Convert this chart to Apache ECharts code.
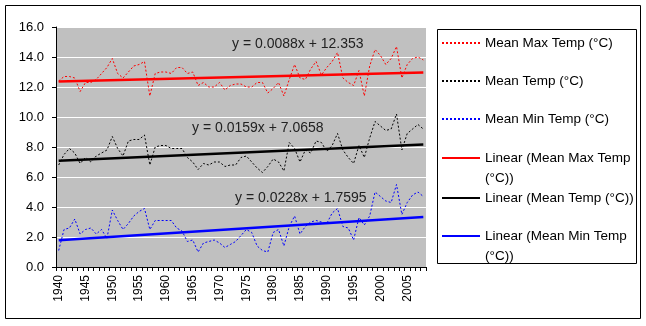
<!DOCTYPE html>
<html>
<head>
<meta charset="utf-8">
<script src="https://cdn.jsdelivr.net/npm/echarts@6/dist/echarts.min.js"></script>
<style>
  html, body { margin: 0; padding: 0; background: #fff; }
  #chart { width: 646px; height: 326px; }
</style>
</head>
<body>
<div id="chart"></div>
<script>
// Years 1940-2008
const years = [];
for (let y = 1940; y <= 2008; y++) years.push(String(y));

// Annual means (°C)
const meanMax = [12.4, 12.7, 12.7, 12.6, 11.7, 12.3, 12.3, 12.5, 12.9, 13.3,
                 13.9, 12.9, 12.6, 13.0, 13.4, 13.5, 13.7, 11.4, 12.9, 13.0,
                 13.0, 12.9, 13.3, 13.3, 12.9, 13.0, 12.1, 12.3, 12.0, 12.0,
                 12.3, 11.8, 12.1, 12.2, 12.2, 12.0, 12.0, 12.3, 12.3, 11.6,
                 11.9, 12.3, 11.4, 12.5, 13.5, 12.6, 12.5, 13.2, 13.7, 12.8,
                 13.3, 13.7, 14.3, 12.6, 12.3, 12.1, 13.1, 11.4, 13.4, 14.5,
                 14.1, 13.5, 13.9, 14.7, 12.6, 13.5, 13.9, 14.0, 13.8];
const meanTemp = [6.8, 7.5, 7.9, 7.6, 6.9, 7.3, 7.0, 7.4, 7.6, 7.8,
                  8.7, 7.9, 7.4, 8.4, 8.5, 8.5, 8.8, 6.8, 8.0, 8.1,
                  8.1, 7.9, 7.9, 7.9, 7.3, 7.0, 6.5, 6.9, 6.8, 7.0,
                  7.0, 6.7, 6.8, 6.8, 7.3, 7.4, 7.0, 6.6, 6.3, 6.7,
                  7.2, 7.0, 6.4, 8.3, 7.9, 7.0, 7.8, 7.6, 8.4, 8.3,
                  7.7, 8.1, 8.9, 7.8, 7.3, 6.9, 8.1, 7.3, 8.6, 9.7,
                  9.4, 9.1, 9.2, 10.2, 7.8, 8.9, 9.2, 9.5, 9.2];
const meanMin = [1.1, 2.5, 2.6, 3.2, 2.2, 2.5, 2.6, 2.2, 2.5, 1.9,
                 3.8, 3.1, 2.5, 2.9, 3.4, 3.7, 3.9, 2.5, 3.1, 3.1,
                 3.1, 3.1, 2.6, 2.4, 1.7, 1.8, 1.0, 1.6, 1.7, 1.8,
                 1.6, 1.3, 1.5, 1.7, 2.1, 2.5, 2.3, 1.4, 1.1, 1.0,
                 2.3, 2.5, 1.4, 2.7, 3.4, 2.2, 2.7, 3.0, 3.1, 3.0,
                 2.9, 3.6, 3.9, 2.7, 2.6, 1.8, 3.3, 2.8, 3.4, 5.0,
                 4.7, 4.4, 4.3, 5.5, 3.5, 4.3, 4.8, 5.0, 4.7];

// Linear trend coefficients (x = 1 for the first year)
const trendSlope = [0.0088, 0.0159, 0.0228];
const trendIntercept = [12.353, 7.0658, 1.7595];

const yTicks = { min: 0, max: 16, step: 2 };

const names = ['Mean Max Temp (°C)', 'Mean Temp (°C)', 'Mean Min Temp (°C)'];
const trendNames = names.map(n => 'Linear (' + n + ')');
const colors = ['#ff0000', '#000000', '#0000ff'];
const FONT = '"Liberation Sans", Arial, sans-serif';

// Trend line: only the two end points, joined straight
function trendData(k) {
  const n = years.length;
  const d = new Array(n).fill(null);
  d[0] = +(trendIntercept[k] + trendSlope[k] * 1).toFixed(4);
  d[n - 1] = +(trendIntercept[k] + trendSlope[k] * n).toFixed(4);
  return d;
}

const dataSets = [meanMax, meanTemp, meanMin];
const series = [];
dataSets.forEach((d, k) => {
  series.push({
    name: names[k], type: 'line', data: d, symbol: 'none', silent: true,
    lineStyle: { color: colors[k], width: 1, type: [2, 2] },
    itemStyle: { color: colors[k] }, z: 2
  });
});
dataSets.forEach((d, k) => {
  series.push({
    name: trendNames[k], type: 'line', data: trendData(k), connectNulls: true,
    symbol: 'none', silent: true,
    lineStyle: { color: colors[k], width: 2.5 },
    itemStyle: { color: colors[k] }, z: 3
  });
});

// One legend block per entry so each sits at its own row.
// Wrapped entries get a leading blank line so the key lines up with the first text line.
const legendRows = [
  { name: names[0], top: 36 },
  { name: names[1], top: 74 },
  { name: names[2], top: 112 },
  { name: trendNames[0], top: 128, wrap: true },
  { name: trendNames[1], top: 191 },
  { name: trendNames[2], top: 206, wrap: true }
];
const legends = legendRows.map(r => {
  const lg = {
    orient: 'horizontal',
    data: [r.name],
    left: 441, top: r.top, padding: 0,
    itemWidth: 38, itemHeight: 14, selectedMode: false,
    itemStyle: { opacity: 0, borderWidth: 0 },
    textStyle: r.wrap
      ? { fontFamily: FONT, fontSize: 13.5, color: '#000', lineHeight: 20 }
      : { fontFamily: FONT, fontSize: 13.5, color: '#000' }
  };
  if (r.wrap) lg.formatter = n => ' \n' + n.replace(' (°C))', '\n(°C))');
  return lg;
});

const trendLabels = [
  { text: 'y = 0.0088x + 12.353', x: 232, y: 44 },
  { text: 'y = 0.0159x + 7.0658', x: 192, y: 128 },
  { text: 'y = 0.0228x + 1.7595', x: 235, y: 198 }
];

const chart = echarts.init(document.getElementById('chart'), null, { renderer: 'canvas' });
chart.setOption({
  animation: false,
  backgroundColor: '#ffffff',
  textStyle: { fontFamily: FONT },
  grid: {
    left: 56, right: 220, top: 27, bottom: 59,
    show: true, backgroundColor: '#c0c0c0', borderWidth: 0
  },
  legend: legends,
  xAxis: {
    type: 'category', data: years, boundaryGap: true,
    axisLine: { lineStyle: { color: '#000', width: 1 } },
    axisTick: { show: true, interval: 0, length: 4, lineStyle: { color: '#000' } },
    axisLabel: { interval: 4, rotate: 90, margin: 8, color: '#000', fontSize: 12, fontFamily: FONT },
    splitLine: { show: false }
  },
  yAxis: {
    type: 'value', min: yTicks.min, max: yTicks.max, interval: yTicks.step,
    axisLine: { show: true, lineStyle: { color: '#000', width: 1 } },
    axisTick: { show: true, length: 4, lineStyle: { color: '#000' } },
    axisLabel: { margin: 12, color: '#000', fontSize: 13, fontFamily: FONT,
                 formatter: v => v.toFixed(1) },
    splitLine: { show: true, lineStyle: { color: '#ffffff', width: 1 } }
  },
  graphic: [
    { type: 'rect', silent: true, z: -10,
      shape: { x: 5.5, y: 5.5, width: 635, height: 313 },
      style: { fill: 'none', stroke: '#000', lineWidth: 1 } },
    { type: 'rect', silent: true, z: -5,
      shape: { x: 437.5, y: 29.5, width: 199, height: 234 },
      style: { fill: '#fff', stroke: '#000', lineWidth: 1 } }
  ].concat(trendLabels.map(t => ({
    type: 'text', silent: true, z: 10, x: t.x, y: t.y,
    style: { text: t.text, fill: '#222', font: '14px ' + FONT, verticalAlign: 'middle' }
  }))),
  series: series
});
</script>
</body>
</html>
